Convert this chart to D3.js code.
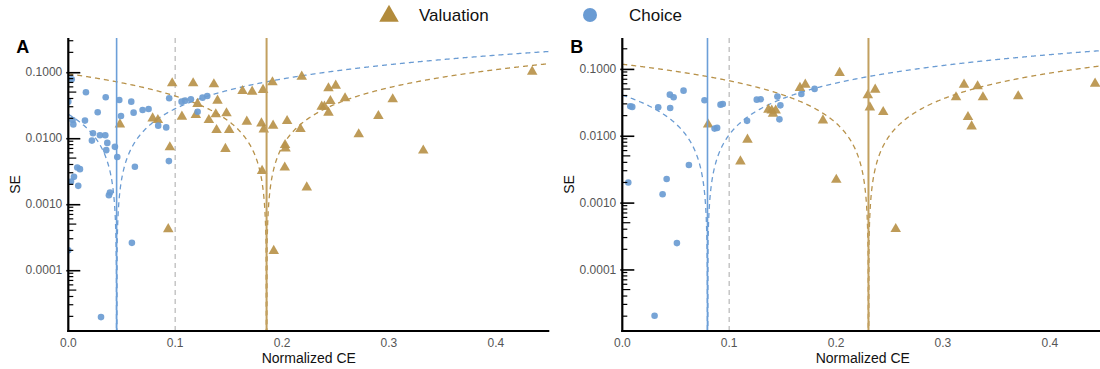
<!DOCTYPE html>
<html>
<head>
<meta charset="utf-8">
<script src="https://cdn.jsdelivr.net/npm/d3@7"></script>
<style>
  body { margin: 0; background: #fff; }
  svg { display: block; font-family: "Liberation Sans", Arial, sans-serif; }
</style>
</head>
<body>
<svg id="chart" width="1100" height="369"></svg>
<script>
// ---- data ----
const seriesNames = ["Valuation", "Choice"];
const xTicks = [0, 0.1, 0.2, 0.3, 0.4];
const xTickLabels = ["0.0", "0.1", "0.2", "0.3", "0.4"];
const yTicks = [0.0001, 0.001, 0.01, 0.1];
const yTickLabels = ["0.0001", "0.0010", "0.0100", "0.1000"];
const referenceCE = 0.1;

// Panel A
const valuationA_ce = [0.0972, 0.1168, 0.1362, 0.163, 0.172, 0.1822, 0.191, 0.1396, 0.1209, 0.1063,
  0.1193, 0.138, 0.148, 0.1315, 0.167, 0.1807, 0.1916, 0.0789, 0.0838, 0.1387,
  0.1505, 0.1829, 0.0483, 0.095, 0.147, 0.1813, 0.0935, 0.1922, 0.2184, 0.2434,
  0.2502, 0.2452, 0.2589, 0.3035, 0.2371, 0.2396, 0.2434, 0.2901, 0.2047, 0.2172,
  0.2717, 0.2028, 0.2032, 0.3321, 0.434, 0.2025, 0.2231];
const valuationA_se = [0.068, 0.068, 0.0658, 0.052, 0.0508, 0.0539, 0.0705, 0.0371, 0.0331, 0.0212,
  0.0225, 0.0231, 0.0239, 0.0189, 0.0178, 0.0168, 0.0155, 0.02, 0.0189, 0.0133,
  0.0133, 0.0136, 0.0162, 0.0073, 0.0069, 0.0032, 0.00042, 0.000196, 0.0858, 0.0572,
  0.0627, 0.0367, 0.0403, 0.0389, 0.0301, 0.0301, 0.0244, 0.0217, 0.0182, 0.0138,
  0.0115, 0.0079, 0.0070, 0.0065, 0.102, 0.0036, 0.0018];
const choiceA_ce = [0.0032, 0.0, 0.0165, 0.035, 0.0477, 0.0589, 0.0275, 0.0493, 0.0611, 0.0695,
  0.0751, 0.0944, 0.106, 0.1093, 0.1147, 0.1256, 0.13, 0.121, 0.0841, 0.0916,
  0.004, 0.0047, 0.0156, 0.0231, 0.0296, 0.0346, 0.0221, 0.0365, 0.0436, 0.0355,
  0.0458, 0.0941, 0.0623, 0.0084, 0.0109, 0.0053, 0.0025, 0.0093, 0.039, 0.038,
  0.0595, 0.0306, 0.0];
const choiceA_se = [0.078, 0.0358, 0.0498, 0.0417, 0.038, 0.0358, 0.0247, 0.0217, 0.0244, 0.0268,
  0.0277, 0.0403, 0.0358, 0.0371, 0.039, 0.0412, 0.0436, 0.0252, 0.0155, 0.0146,
  0.0189, 0.0162, 0.0185, 0.0119, 0.0111, 0.0111, 0.0092, 0.0085, 0.0074, 0.0066,
  0.0052, 0.0045, 0.0037, 0.0036, 0.0034, 0.0026, 0.0022, 0.0019, 0.0015, 0.00137,
  0.00026, 0.0000195, 0.0002];
const meanA = [0.1855, 0.0452]; // Valuation, Choice

// Panel B
const valuationB_ce = [0.0803, 0.1171, 0.1105, 0.1367, 0.1398, 0.1435, 0.141, 0.1662, 0.1712, 0.2033,
  0.1877, 0.2297, 0.2366, 0.2316, 0.2441, 0.2002, 0.3197, 0.3324, 0.3122, 0.3374,
  0.3704, 0.3234, 0.3268, 0.4423, 0.2558];
const valuationB_se = [0.0147, 0.00875, 0.00414, 0.0246, 0.0238, 0.0238, 0.0214, 0.052, 0.0582, 0.0871,
  0.017, 0.0403, 0.049, 0.0266, 0.0227, 0.0022, 0.0582, 0.055, 0.0376, 0.0376,
  0.0389, 0.0191, 0.0138, 0.0603, 0.000403];
const choiceB_ce = [0.0093, 0.0075, 0.0336, 0.0445, 0.048, 0.0573, 0.0448, 0.0769, 0.0919, 0.094,
  0.0863, 0.0887, 0.1167, 0.1258, 0.1295, 0.1451, 0.1479, 0.147, 0.1675, 0.1799,
  0.0623, 0.0056, 0.0415, 0.0377, 0.0511, 0.0302];
const choiceB_se = [0.027, 0.0276, 0.0266, 0.0412, 0.0376, 0.0473, 0.026, 0.0339, 0.0292, 0.0299,
  0.0128, 0.0131, 0.0167, 0.0347, 0.0351, 0.0385, 0.0285, 0.0176, 0.0422, 0.0502,
  0.00366, 0.0020, 0.00226, 0.00133, 0.000248, 0.0000203];
const meanB = [0.2303, 0.0797];

// ---- styling ----
const GOLD = "#b8924a";
const GOLD_LINE = "#c2a060";
const BLUE = "#6b9cd3";
const BLUE_LINE = "#6c9fd8";
const Z = 1.96;

const svg = d3.select("#chart");

function drawPanel(opts) {
  const { letter, left, right, top, bottom, yMax, valCE, valSE, choCE, choSE, means } = opts;
  const x = d3.scaleLinear().domain([0, 0.45]).range([left, right]);
  const y = d3.scaleLog().domain([1.2e-5, yMax]).range([bottom, top]);
  const g = svg.append("g");

  const clipId = "clip" + letter;
  svg.append("clipPath").attr("id", clipId)
    .append("rect").attr("x", left).attr("y", top).attr("width", right - left).attr("height", bottom - top);
  const plot = g.append("g").attr("clip-path", `url(#${clipId})`);

  // reference line
  plot.append("line")
    .attr("x1", x(referenceCE)).attr("x2", x(referenceCE))
    .attr("y1", top).attr("y2", bottom)
    .attr("stroke", "#bdbdbd").attr("stroke-width", 1.3).attr("stroke-dasharray", "5,4");

  // funnel boundaries: SE = |CE - mean| / 1.96
  const colors = [GOLD, BLUE];
  means.forEach((m, i) => {
    const branches = [[0, m], [m, 0.45]];
    branches.forEach(([a, b]) => {
      const pts = d3.range(a, b, 0.0005).concat([b]).map(v => [v, Math.max(Math.abs(v - m) / Z, 1e-7)]);
      const line = d3.line().x(d => x(d[0])).y(d => y(d[1]));
      plot.append("path").attr("d", line(pts))
        .attr("fill", "none").attr("stroke", colors[i])
        .attr("stroke-width", 1.3).attr("stroke-dasharray", "5,4");
    });
  });

  // points
  const tri = d3.symbol().type(d3.symbolTriangle).size(48);
  plot.append("g").selectAll("path").data(d3.zip(valCE, valSE)).join("path")
    .attr("d", tri)
    .attr("transform", d => `translate(${x(d[0])},${y(d[1])})`)
    .attr("fill", GOLD).attr("fill-opacity", 0.92);
  plot.append("g").selectAll("circle").data(d3.zip(choCE, choSE)).join("circle")
    .attr("cx", d => x(d[0])).attr("cy", d => y(d[1])).attr("r", 3.3)
    .attr("fill", BLUE).attr("fill-opacity", 0.92);

  // mean lines
  const meanColors = [GOLD_LINE, BLUE_LINE];
  means.forEach((m, i) => {
    plot.append("line")
      .attr("x1", x(m)).attr("x2", x(m)).attr("y1", top).attr("y2", bottom)
      .attr("stroke", meanColors[i]).attr("stroke-width", i === 0 ? 2 : 1.6);
  });

  // y axis with log ticks drawn inward
  const yAxis = d3.axisRight(y).tickValues(yTicks).tickFormat(() => "").tickSize(12);
  const ya = g.append("g").attr("transform", `translate(${left},0)`).call(yAxis);
  ya.select(".domain").remove();
  ya.selectAll(".tick line").attr("stroke", "#000").attr("stroke-width", 1.6).attr("x1", -2);
  const minor = [];
  const [d0, d1] = y.domain();
  for (let e = -6; e <= 0; e++) {
    for (let k = 2; k <= 9; k++) {
      const v = k * Math.pow(10, e);
      if (v >= d0 && v <= d1) minor.push({ v, k });
    }
  }
  g.append("g").selectAll("line").data(minor).join("line")
    .attr("x1", left).attr("x2", d => left + (d.k === 5 ? 8 : 5))
    .attr("y1", d => y(d.v)).attr("y2", d => y(d.v))
    .attr("stroke", "#000").attr("stroke-width", 1.2);
  g.append("g").selectAll("text").data(yTicks).join("text")
    .attr("x", left - 6).attr("y", d => y(d)).attr("dy", "0.35em")
    .attr("text-anchor", "end").attr("font-size", 12).attr("fill", "#555")
    .text((d, i) => yTickLabels[i]);

  // axis lines
  g.append("line").attr("x1", left).attr("x2", left).attr("y1", top).attr("y2", bottom + 1)
    .attr("stroke", "#000").attr("stroke-width", 2.2);
  g.append("line").attr("x1", left - 1).attr("x2", right).attr("y1", bottom).attr("y2", bottom)
    .attr("stroke", "#000").attr("stroke-width", 2.2);

  // x tick labels
  g.append("g").selectAll("text").data(xTicks).join("text")
    .attr("x", d => x(d)).attr("y", bottom + 16)
    .attr("text-anchor", "middle").attr("font-size", 12).attr("fill", "#555")
    .text((d, i) => xTickLabels[i]);

  // titles
  g.append("text").attr("x", (left + right) / 2 - (letter === "B" ? 0 : 0)).attr("y", 363)
    .attr("text-anchor", "middle").attr("font-size", 14).attr("fill", "#111")
    .text("Normalized CE");
  g.append("text").attr("transform", `translate(${left - 48},${(top + bottom) / 2}) rotate(-90)`)
    .attr("text-anchor", "middle").attr("font-size", 14).attr("fill", "#111")
    .text("SE");
  g.append("text").attr("x", left - 52).attr("y", 53)
    .attr("font-size", 18).attr("font-weight", "bold").attr("fill", "#000")
    .text(letter);
}

drawPanel({ letter: "A", left: 68.3, right: 549.3, top: 38, bottom: 331, yMax: 0.33,
  valCE: valuationA_ce, valSE: valuationA_se, choCE: choiceA_ce, choSE: choiceA_se, means: meanA });
drawPanel({ letter: "B", left: 622.3, right: 1103.3, top: 38, bottom: 331, yMax: 0.29,
  valCE: valuationB_ce, valSE: valuationB_se, choCE: choiceB_ce, choSE: choiceB_se, means: meanB });

// legend
const legend = svg.append("g");
legend.append("path")
  .attr("d", d3.symbol().type(d3.symbolTriangle).size(165)())
  .attr("transform", "translate(389,16)").attr("fill", "#b28b3c");
legend.append("text").attr("x", 419).attr("y", 21).attr("font-size", 17).attr("fill", "#111")
  .text(seriesNames[0]);
legend.append("circle").attr("cx", 590).attr("cy", 15).attr("r", 7).attr("fill", "#6a9bd3");
legend.append("text").attr("x", 629).attr("y", 21).attr("font-size", 17).attr("fill", "#111")
  .text(seriesNames[1]);
</script>
</body>
</html>
